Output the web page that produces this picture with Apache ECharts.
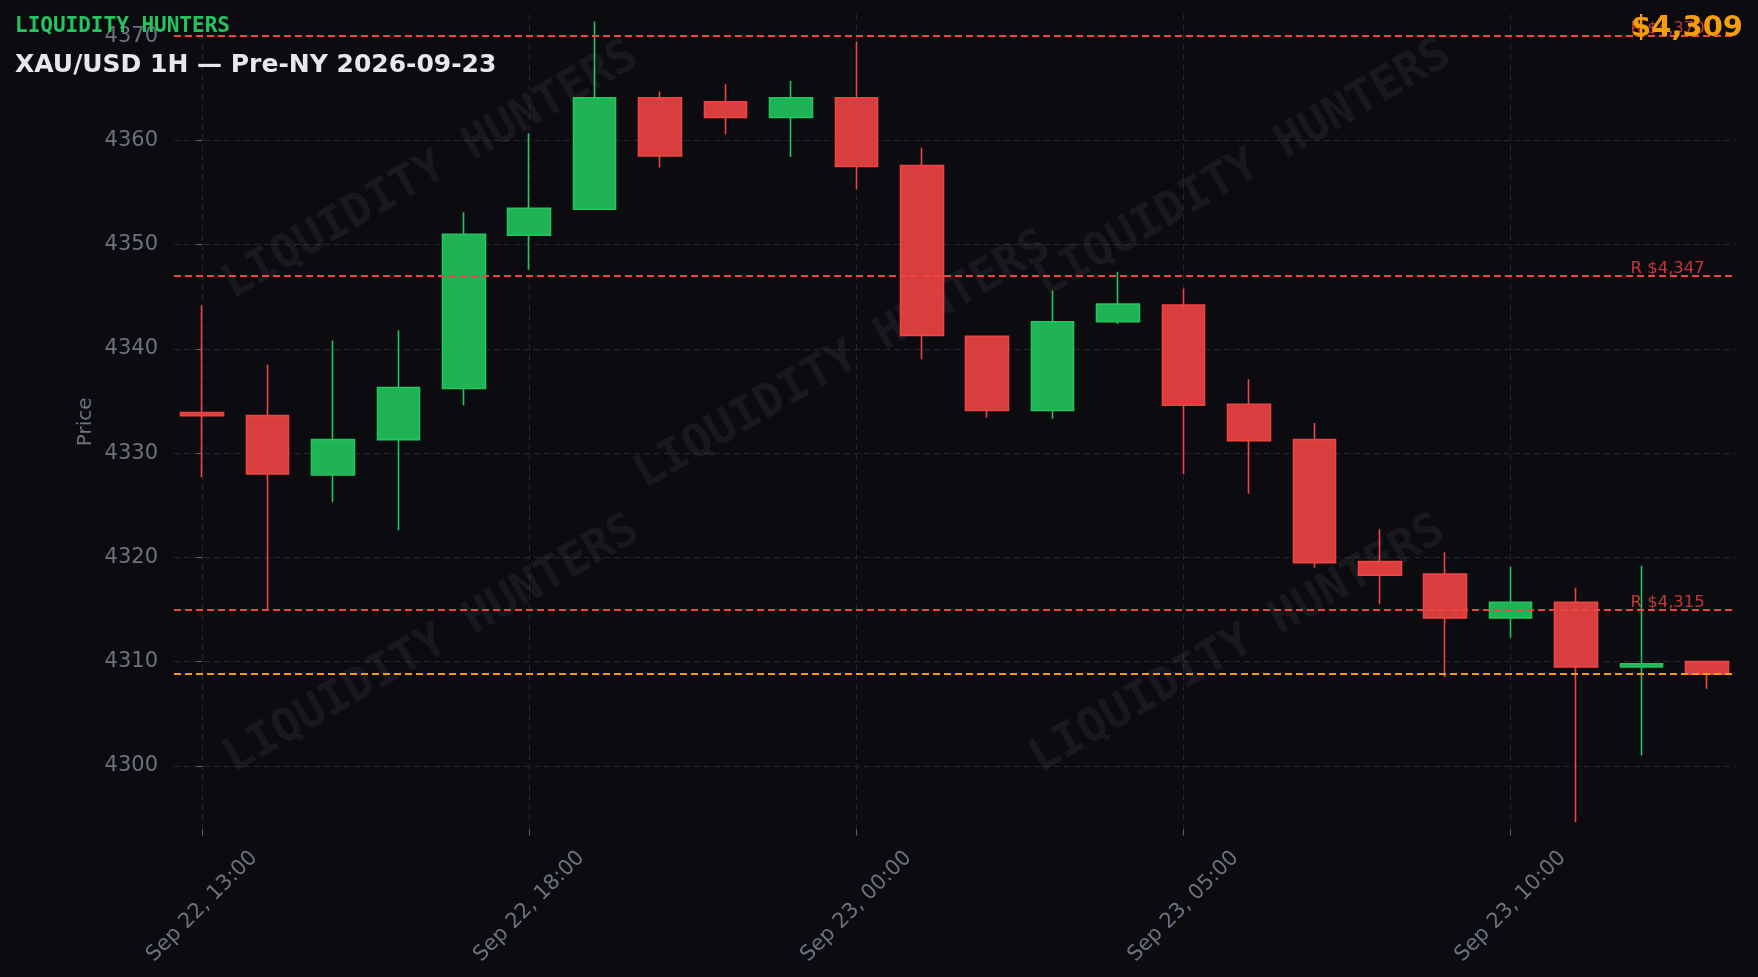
<!DOCTYPE html>
<html>
<head>
<meta charset="utf-8">
<script src="https://cdn.jsdelivr.net/npm/echarts@6/dist/echarts.min.js"></script>
<style>
html,body{margin:0;padding:0;background:#0b0b10;}
#chart{width:1758px;height:977px;}
</style>
</head>
<body>
<div id="chart"></div>
<script>
// ---------- data ----------
const times = [
  'Sep 22, 13:00','Sep 22, 14:00','Sep 22, 15:00','Sep 22, 16:00','Sep 22, 17:00',
  'Sep 22, 18:00','Sep 22, 19:00','Sep 22, 20:00','Sep 22, 21:00','Sep 22, 22:00',
  'Sep 23, 00:00','Sep 23, 01:00','Sep 23, 02:00','Sep 23, 03:00','Sep 23, 04:00',
  'Sep 23, 05:00','Sep 23, 06:00','Sep 23, 07:00','Sep 23, 08:00','Sep 23, 09:00',
  'Sep 23, 10:00','Sep 23, 11:00','Sep 23, 12:00','Sep 23, 13:00'
];
const opens  = [4333.9,4333.6,4327.9,4331.3,4336.2,4350.9,4353.4,4364.1,4363.7,4362.2,4364.1,4357.6,4341.2,4334.1,4342.6,4344.2,4334.7,4331.3,4319.6,4318.4,4314.2,4315.7,4309.5,4310.0];
const closes = [4333.6,4328.0,4331.3,4336.3,4351.0,4353.5,4364.1,4358.5,4362.2,4364.1,4357.5,4341.3,4334.1,4342.6,4344.3,4334.6,4331.2,4319.5,4318.3,4314.2,4315.7,4309.5,4309.8,4308.8];
const lows   = [4327.7,4315.0,4325.3,4322.6,4334.6,4347.6,4353.4,4357.4,4360.6,4358.4,4355.3,4339.0,4333.4,4333.3,4342.4,4328.0,4326.1,4319.0,4315.5,4308.5,4312.3,4294.6,4301.0,4307.4];
const highs  = [4344.2,4338.5,4340.8,4341.8,4353.1,4360.7,4371.4,4364.7,4365.4,4365.7,4369.5,4359.3,4341.3,4345.6,4347.4,4345.8,4337.1,4332.9,4322.7,4320.5,4319.1,4317.1,4319.2,4310.0];
const resistanceLevels = [4370, 4347, 4315];
const yTicks = [4300, 4310, 4320, 4330, 4340, 4350, 4360, 4370];
const xTickIdx = [0, 5, 10, 15, 20];
const brandText = 'LIQUIDITY HUNTERS';
const titleText = 'XAU/USD 1H — Pre-NY 2026-09-23';
const lastPrice = closes[closes.length - 1];

// ---------- chart ----------
const fmtPrice = v => '$' + Math.round(v).toLocaleString('en-US');
const chart = echarts.init(document.getElementById('chart'), null, {renderer: 'canvas', width: 1758, height: 977});
const gridColor = '#23242c';
const labelColor = '#6b7280';
const tickFont = 'DejaVu Sans';

chart.setOption({
  backgroundColor: '#0b0b10',
  animation: false,
  grid: {left: 174, right: 23, top: 14.3, bottom: 147.5, containLabel: false, outerBoundsMode: 'none'},
  xAxis: {
    type: 'value', min: -0.43, max: 23.43,
    axisLine: {show: false},
    axisTick: {show: true, customValues: xTickIdx, length: 6, lineStyle: {color: '#5b6270', width: 1}},
    axisLabel: {
      customValues: xTickIdx, formatter: v => times[Math.round(v)],
      rotate: 45, align: 'center', verticalAlign: 'middle', margin: 77,
      color: labelColor, fontSize: 21, fontFamily: tickFont
    },
    splitLine: {show: true, lineStyle: {color: gridColor, type: [6, 4], width: 1}}
  },
  yAxis: {
    type: 'value', min: 4293.9, max: 4372.1, scale: true,
    name: 'Price', nameLocation: 'middle', nameGap: 78, nameMoveOverlap: false,
    nameTextStyle: {color: labelColor, fontSize: 20, fontFamily: tickFont},
    axisLine: {show: false},
    axisTick: {show: true, customValues: yTicks, length: 6, lineStyle: {color: '#5b6270', width: 1}},
    axisLabel: {customValues: yTicks, formatter: v => String(v), margin: 16, color: labelColor, fontSize: 21, fontFamily: tickFont},
    splitLine: {show: true, lineStyle: {color: gridColor, type: [6, 4], width: 1}}
  },
  series: [{
    type: 'candlestick',
    data: opens.map((o, i) => [i, o, closes[i], lows[i], highs[i]]),
    barWidth: 43,
    itemStyle: {
      color: 'rgba(34,197,94,0.9)', color0: 'rgba(239,68,68,0.9)',
      borderColor: '#22c55e', borderColor0: '#ef4444', borderWidth: 1.6
    },
    markLine: {
      silent: true, symbol: 'none', animation: false,
      label: {show: false},
      data: resistanceLevels.map(v => ({yAxis: v, lineStyle: {color: '#ef4444', type: [7, 4], width: 1.8}}))
        .concat([{yAxis: lastPrice, lineStyle: {color: '#f59e0b', type: [7, 4], width: 2}}])
    }
  }]
});

// ---------- overlay texts ----------
const graphics = [];
const watermarkCenters = [[431, 171], [843, 361], [1244, 169], [432, 645], [1238, 645]];
watermarkCenters.forEach(c => graphics.push({
  type: 'text', x: c[0], y: c[1], rotation: 30 * Math.PI / 180, z: 0, silent: true,
  style: {text: brandText, font: 'bold 46px "DejaVu Sans Mono"', fill: 'rgba(255,255,255,0.055)',
          align: 'center', verticalAlign: 'middle', textAlign: 'center', textVerticalAlign: 'middle'}
}));
const xEnd = chart.convertToPixel({xAxisIndex: 0}, opens.length - 1);
resistanceLevels.forEach(v => {
  const py = chart.convertToPixel({yAxisIndex: 0}, v);
  graphics.push({
    type: 'text', x: xEnd - 2, y: py - 7, z: 10, silent: true,
    style: {text: 'R ' + fmtPrice(v), font: '16.5px "DejaVu Sans"', fill: 'rgba(239,68,68,0.8)',
            align: 'right', verticalAlign: 'middle', textAlign: 'right', textVerticalAlign: 'middle'}
  });
});
graphics.push({
  type: 'text', x: 15, y: 26.4, z: 20, silent: true,
  style: {text: brandText, font: 'bold 21px "DejaVu Sans Mono"', fill: '#22c55e',
          align: 'left', verticalAlign: 'middle', textAlign: 'left', textVerticalAlign: 'middle'}
});
graphics.push({
  type: 'text', x: 15, y: 65.8, z: 20, silent: true,
  style: {text: titleText, font: 'bold 25px "DejaVu Sans"', fill: '#e8e8ec',
          align: 'left', verticalAlign: 'middle', textAlign: 'left', textVerticalAlign: 'middle'}
});
graphics.push({
  type: 'text', x: 1743, y: 28.2, z: 20, silent: true,
  style: {text: fmtPrice(lastPrice), font: 'bold 29px "DejaVu Sans"', fill: '#f59e0b',
          align: 'right', verticalAlign: 'middle', textAlign: 'right', textVerticalAlign: 'middle'}
});
chart.setOption({graphic: graphics});
</script>
</body>
</html>
